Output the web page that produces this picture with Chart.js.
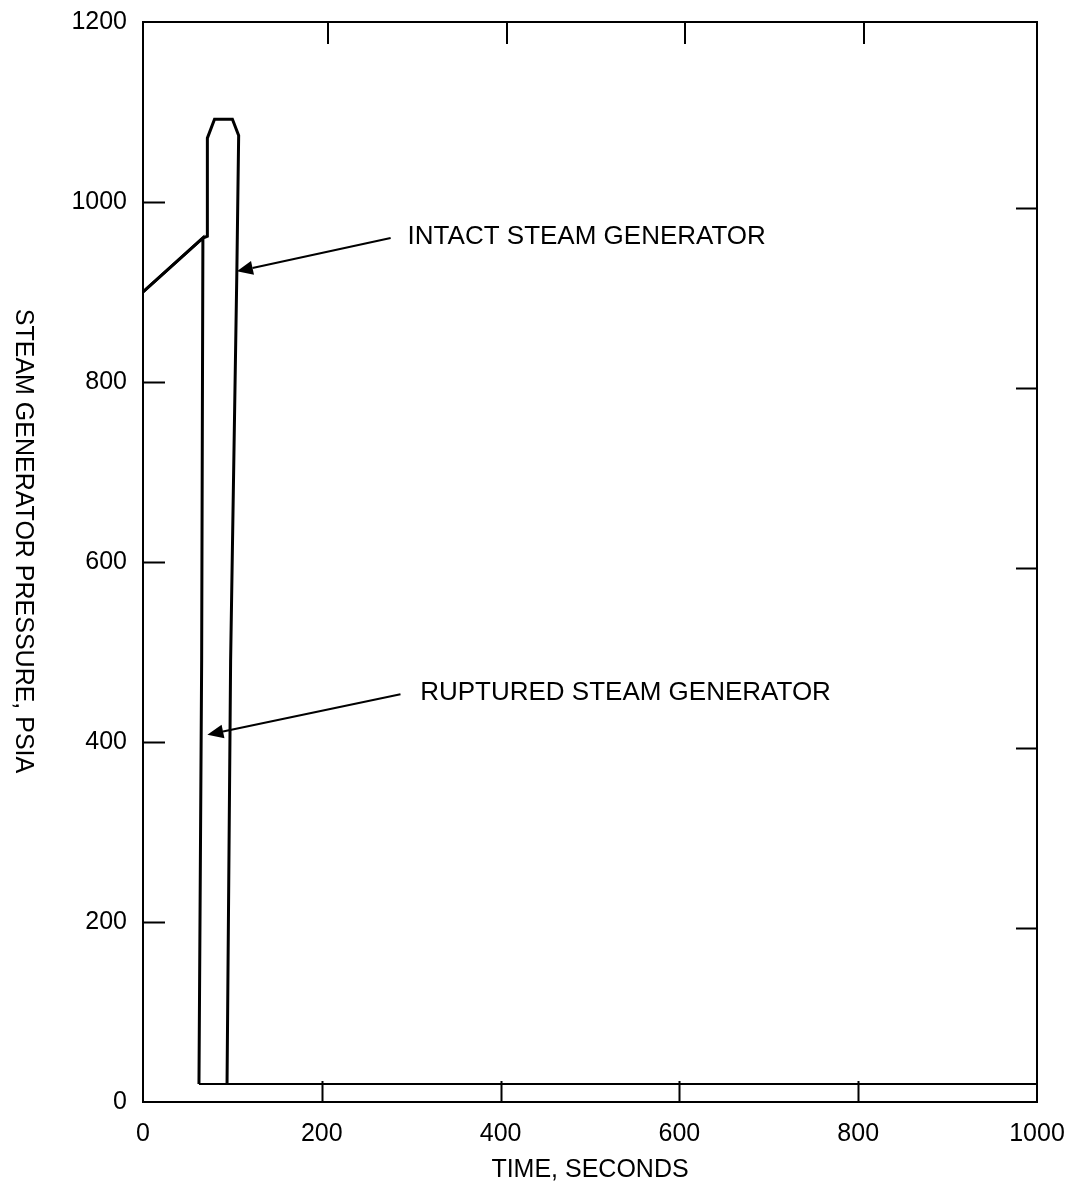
<!DOCTYPE html>
<html lang="en">
<head>
    <meta charset="UTF-8">
    <title>Steam Generator Pressure</title>
    <style>
        body {
            margin: 0;
            background: #fff;
        }
    </style>
    <script src="https://cdn.jsdelivr.net/npm/chart.js"></script>
</head>
<body>
    <canvas id="sgChart" width="1067" height="1189"></canvas>

    <script>
        // values (time in s, pressure in psia)
        const intactTime = [0, 67, 72, 72, 80, 100, 107, 105, 98, 94];
        const intactPressure = [900, 960, 962, 1071, 1092, 1092, 1074, 924, 490, 20];
        const rupturedTime = [0, 67, 65.6, 62.6, 1000];
        const rupturedPressure = [900, 960, 490, 20, 20];

        const xTicks = [0, 200, 400, 600, 800, 1000];
        const yTicks = [0, 200, 400, 600, 800, 1000, 1200];

        const notes = [
            { text: 'INTACT STEAM GENERATOR', at: [296, 961], from: [277, 960], to: [105, 923] },
            { text: 'RUPTURED STEAM GENERATOR', at: [310, 455], from: [288, 453], to: [72, 408] }
        ];

        const FONT = '"Liberation Sans", Arial, sans-serif';

        function toPoints(xs, ys) {
            return xs.map((x, i) => ({ x: x, y: ys[i] }));
        }

        // frame, inward tick marks, y title and the arrow notes
        const decor = {
            id: 'decor',
            afterDraw(chart) {
                const ctx = chart.ctx;
                const a = chart.chartArea;
                const xs = chart.scales.x;
                const ys = chart.scales.y;
                ctx.save();
                ctx.strokeStyle = '#000';
                ctx.fillStyle = '#000';
                ctx.lineWidth = 2;
                ctx.strokeRect(a.left, a.top, a.right - a.left, a.bottom - a.top);

                ctx.beginPath();
                xTicks.slice(1, -1).forEach(v => {
                    const px = Math.round(xs.getPixelForValue(v)) + 0.5;
                    ctx.moveTo(px, a.bottom);
                    ctx.lineTo(px, a.bottom - 21);
                    ctx.moveTo(px + 5.5, a.top);
                    ctx.lineTo(px + 5.5, a.top + 22);
                });
                yTicks.slice(1, -1).forEach(v => {
                    const py = Math.round(ys.getPixelForValue(v)) + 0.5;
                    ctx.moveTo(a.left, py);
                    ctx.lineTo(a.left + 22, py);
                    ctx.moveTo(a.right, py + 6);
                    ctx.lineTo(a.right - 21, py + 6);
                });
                ctx.stroke();

                // y title reads top to bottom
                ctx.save();
                ctx.translate(23, (a.top + a.bottom) / 2 - 21);
                ctx.rotate(Math.PI / 2);
                ctx.font = '25px ' + FONT;
                ctx.textAlign = 'center';
                ctx.textBaseline = 'middle';
                ctx.fillText('STEAM GENERATOR PRESSURE, PSIA', 0, 0);
                ctx.restore();

                ctx.font = '26px ' + FONT;
                ctx.textAlign = 'left';
                ctx.textBaseline = 'middle';
                notes.forEach(n => {
                    ctx.fillText(n.text, xs.getPixelForValue(n.at[0]), ys.getPixelForValue(n.at[1]));
                    const x0 = xs.getPixelForValue(n.from[0]), y0 = ys.getPixelForValue(n.from[1]);
                    const x1 = xs.getPixelForValue(n.to[0]), y1 = ys.getPixelForValue(n.to[1]);
                    const ang = Math.atan2(y1 - y0, x1 - x0);
                    const len = 16, half = 7;
                    const bx = x1 - len * Math.cos(ang), by = y1 - len * Math.sin(ang);
                    ctx.beginPath();
                    ctx.moveTo(x0, y0);
                    ctx.lineTo(bx, by);
                    ctx.stroke();
                    ctx.beginPath();
                    ctx.moveTo(x1, y1);
                    ctx.lineTo(bx + half * Math.sin(ang), by - half * Math.cos(ang));
                    ctx.lineTo(bx - half * Math.sin(ang), by + half * Math.cos(ang));
                    ctx.closePath();
                    ctx.fill();
                });
                ctx.restore();
            }
        };

        // invisible tick marks just push the labels away from the frame
        const hiddenGrid = {
            display: true,
            drawOnChartArea: false,
            drawTicks: true,
            color: 'rgba(0,0,0,0)'
        };

        new Chart(document.getElementById('sgChart'), {
            type: 'scatter',
            data: {
                datasets: [
                    {
                        label: 'Intact',
                        data: toPoints(intactTime, intactPressure),
                        showLine: true,
                        borderColor: '#000',
                        borderWidth: 3,
                        pointRadius: 0
                    },
                    {
                        label: 'Ruptured',
                        data: toPoints(rupturedTime, rupturedPressure),
                        showLine: true,
                        borderColor: '#000',
                        borderWidth: 3,
                        pointRadius: 0,
                        segment: {
                            borderWidth: c => (c.p1.parsed.x > 500 ? 2 : undefined)
                        }
                    }
                ]
            },
            plugins: [decor],
            options: {
                responsive: false,
                animation: false,
                devicePixelRatio: 1,
                layout: { padding: { left: 0, top: 22, right: 30, bottom: 0 } },
                plugins: {
                    legend: { display: false },
                    tooltip: { enabled: false }
                },
                scales: {
                    x: {
                        type: 'linear',
                        min: 0,
                        max: 1000,
                        afterFit: s => { s.height = 87; },
                        afterBuildTicks: s => { s.ticks = xTicks.map(v => ({ value: v })); },
                        grid: Object.assign({ tickLength: 17 }, hiddenGrid),
                        border: { display: false },
                        ticks: {
                            padding: 0,
                            color: '#000',
                            font: { size: 25, family: FONT },
                            callback: v => String(v)
                        },
                        title: {
                            display: true,
                            text: 'TIME, SECONDS',
                            color: '#000',
                            padding: { top: 0, bottom: 4 },
                            font: { size: 25, family: FONT }
                        }
                    },
                    y: {
                        type: 'linear',
                        min: 0,
                        max: 1200,
                        afterFit: s => { s.width = 143; },
                        afterBuildTicks: s => { s.ticks = yTicks.map(v => ({ value: v })); },
                        grid: Object.assign({ tickLength: 16 }, hiddenGrid),
                        border: { display: false },
                        ticks: {
                            padding: 0,
                            color: '#000',
                            font: { size: 25, family: FONT },
                            callback: v => String(v)
                        }
                    }
                }
            }
        });
    </script>
</body>
</html>
